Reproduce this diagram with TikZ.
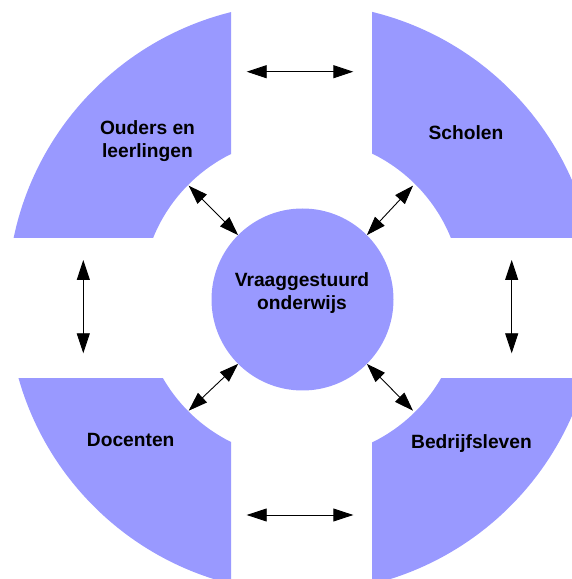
\documentclass[tikz,border=0pt]{standalone}
\usepackage{fontspec}
\setmainfont{Liberation Sans}
\usetikzlibrary{arrows.meta}
\definecolor{ringblue}{RGB}{153,153,255}
\begin{document}
\begin{tikzpicture}[x=1pt,y=1pt,
  ringpart/.style={fill=ringblue, even odd rule},
  lbl/.style={font=\fontsize{19.2}{22.2}\selectfont\bfseries, align=center, inner sep=0pt},
  link/.style={line width=0.9pt, {Triangle[length=20pt,width=13pt]}-{Triangle[length=20pt,width=13pt]}},
  dlink/.style={line width=0.9pt, {Triangle[length=19pt,width=13pt]}-{Triangle[length=19pt,width=13pt]}}
]
\useasboundingbox (0,0) rectangle (572,579);
\clip (0,0) rectangle (572,579);
\coordinate (rc) at (302,281);
% four ring quadrants
\begin{scope}
  \clip (-10,341) rectangle (231,600);
  \fill[ringpart] (rc) circle[radius=294.5] (rc) circle[radius=160.5];
\end{scope}
\begin{scope}
  \clip (372,341) rectangle (600,600);
  \fill[ringpart] (rc) circle[radius=294.5] (rc) circle[radius=160.5];
\end{scope}
\begin{scope}
  \clip (-10,-20) rectangle (231,200);
  \fill[ringpart] (rc) circle[radius=294.5] (rc) circle[radius=160.5];
\end{scope}
\begin{scope}
  \clip (372,-20) rectangle (600,200);
  \fill[ringpart] (rc) circle[radius=294.5] (rc) circle[radius=160.5];
\end{scope}
% centre
\node[circle, fill=ringblue, minimum size=182pt, inner sep=0pt, outer sep=0pt] (c) at (302.5,279.5) {};
\node[lbl] (ct) at (302,286) {Vraaggestuurd\\onderwijs};
% labels
\node[lbl] (ol) at (147.5,438) {Ouders en\\leerlingen};
\node[lbl] (sc) at (466,446.3) {Scholen};
\node[lbl] (dc) at (130.7,139) {Docenten};
\node[lbl] (bl) at (471.5,135) {Bedrijfsleven};
% arrow end points
\coordinate (t1) at (246.7,507.3);
\coordinate (t2) at (353.3,507.3);
\coordinate (b1) at (246.7,64);
\coordinate (b2) at (353.3,64);
\coordinate (l1) at (83.3,319);
\coordinate (l2) at (83.3,225.7);
\coordinate (r1) at (511.7,319);
\coordinate (r2) at (511.7,225.7);
\coordinate (dtl) at (188.7,393.3);
\coordinate (dtr) at (413,393.3);
\coordinate (dbl) at (188.7,168.3);
\coordinate (dbr) at (413,168.3);
% arrows
\draw[link] (t1) -- (t2);
\draw[link] (b1) -- (b2);
\draw[link] (l1) -- (l2);
\draw[link] (r1) -- (r2);
\draw[dlink] (dtl) -- (c.135);
\draw[dlink] (dtr) -- (c.45);
\draw[dlink] (dbl) -- (c.225);
\draw[dlink] (dbr) -- (c.-45);
\end{tikzpicture}
\end{document}
